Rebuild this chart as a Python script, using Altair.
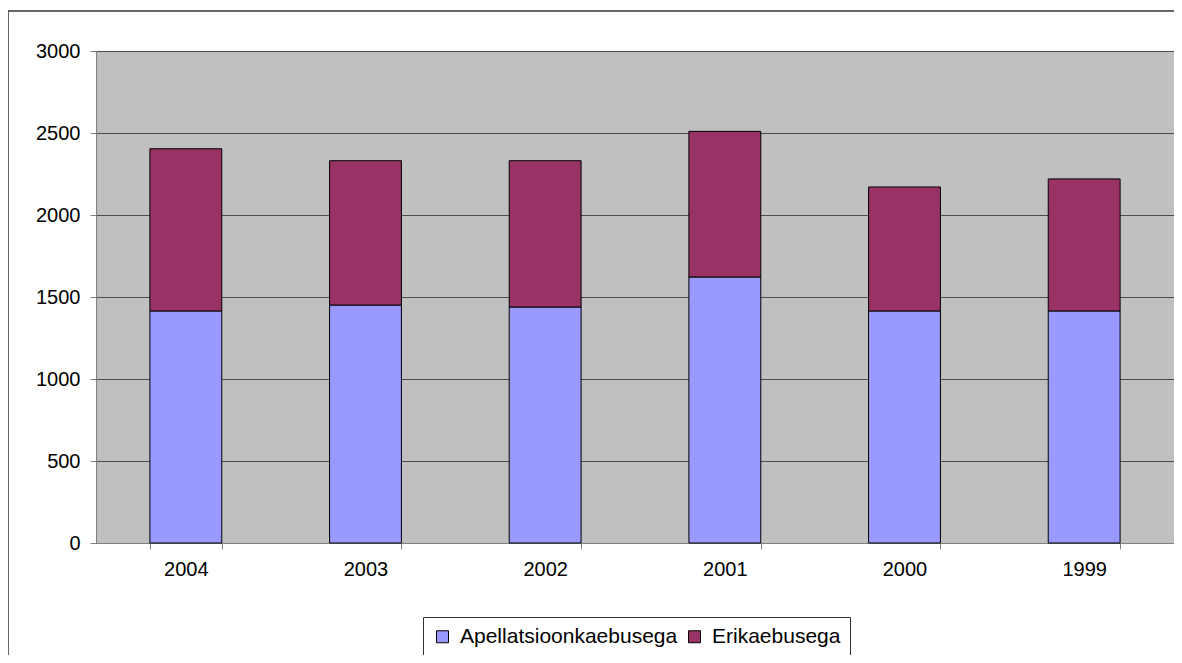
import altair as alt
import pandas as pd

years = ["2004", "2003", "2002", "2001", "2000", "1999"]
series_names = ["Apellatsioonkaebusega", "Erikaebusega"]
apellatsioon = [1415, 1451, 1439, 1622, 1415, 1415]
erikaebus = [989, 880, 892, 888, 756, 805]
y_ticks = [0, 500, 1000, 1500, 2000, 2500, 3000]
colors = ["#9999FF", "#993366"]

rows = []
for i, yr in enumerate(years):
    rows.append({"year": yr, "series": series_names[0], "value": apellatsioon[i], "ord": 0})
    rows.append({"year": yr, "series": series_names[1], "value": erikaebus[i], "ord": 1})
df = pd.DataFrame(rows)

FONT = "Liberation Sans"

bars = alt.Chart(df).mark_bar(stroke="#000000", strokeWidth=1).encode(
    x=alt.X("year:N", sort=years, title=None,
            scale=alt.Scale(paddingInner=0.6, paddingOuter=0.3),
            axis=alt.Axis(labelAngle=0, tickBand="extent", tickSize=6, labelPadding=10,
                          domainColor="#808080", tickColor="#808080", grid=False,
                          labelFontSize=20, labelColor="#000000", labelFont=FONT)),
    y=alt.Y("value:Q", stack="zero", title=None,
            scale=alt.Scale(domain=[0, 3000], nice=False),
            axis=alt.Axis(values=y_ticks, format="d", tickSize=6, labelPadding=10,
                          domainColor="#808080", tickColor="#808080",
                          grid=True, gridColor="#4d4d4d", gridWidth=1,
                          labelFontSize=20, labelColor="#000000", labelFont=FONT)),
    color=alt.Color("series:N", scale=alt.Scale(domain=series_names, range=colors),
                    legend=alt.Legend(title=None, orient="none", legendX=327, legendY=566,
                                      direction="horizontal", symbolType="square",
                                      symbolSize=144, symbolStrokeColor="#000000",
                                      symbolStrokeWidth=1, labelFontSize=21, labelFont=FONT,
                                      labelLimit=0,
                                      labelColor="#000000", labelOffset=7, columnPadding=6,
                                      padding=9, fillColor="#FFFFFF", strokeColor="#333333")),
    order=alt.Order("ord:Q"),
)

frame_data = alt.Data(values=[{"k": 1}])
top_line = alt.Chart(frame_data).mark_rule(color="#333333", strokeWidth=1.5).encode(
    x=alt.value(-88), x2=alt.value(1078), y=alt.value(-40)
)
left_line = alt.Chart(frame_data).mark_rule(color="#333333", strokeWidth=1.5).encode(
    x=alt.value(-88), y=alt.value(-40), y2=alt.value(604)
)

chart = alt.layer(bars, top_line, left_line).properties(
    width=1078, height=492,
    autosize=alt.AutoSizeParams(type="none"),
    padding={"left": 88, "top": 43, "right": 0, "bottom": 112},
    background="#FFFFFF",
).configure_view(fill="#C0C0C0", stroke="#808080", strokeWidth=1)

chart.save("out.html", embed_options={"renderer": "svg", "actions": False})
